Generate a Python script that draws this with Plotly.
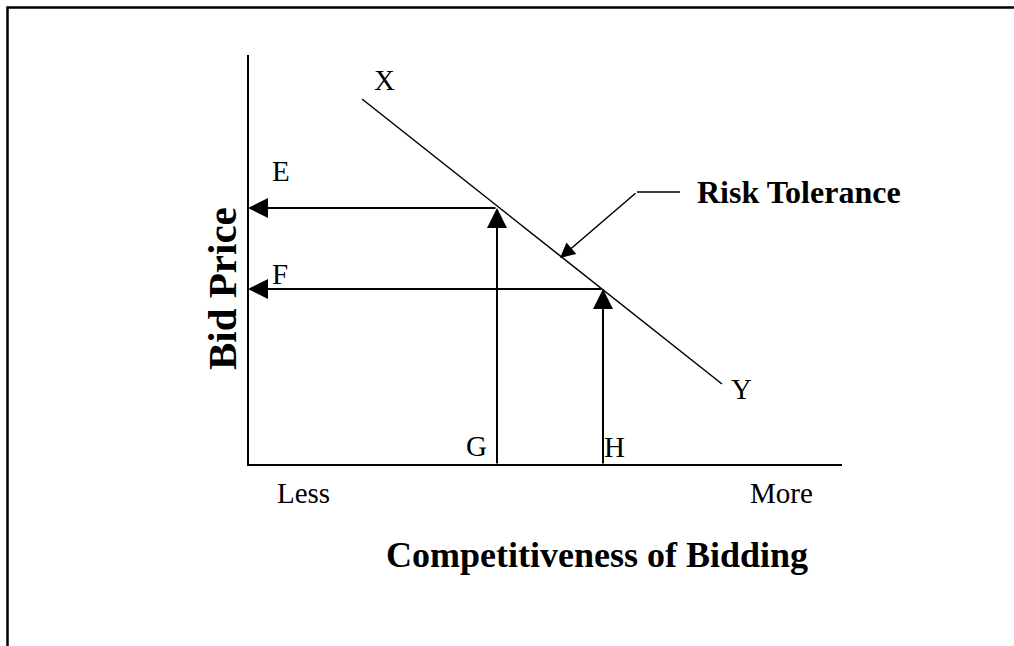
import plotly.graph_objects as go

# Diagram coordinates (page pixels, y measured downward)
axis_origin = (248, 465)
y_axis_top = 55
x_axis_end = 842
risk_line_x = [362, 722]
risk_line_y = [99, 384]
level_names = ["E", "F"]
level_y = [208, 289]          # bid price levels
level_x = [497, 603]          # competitiveness points G, H
pointer_x = [680, 637, 560]
pointer_y = [192, 192, 258]

point_labels = ["X", "Y", "E", "F", "G", "H", "Less", "More"]
point_label_x = [384, 741, 281, 280, 476, 614, 303, 781]
point_label_y = [80, 389, 171, 274, 446, 447, 493, 493]

x_title = "Competitiveness of Bidding"
y_title = "Bid Price"
curve_label = "Risk Tolerance"

FONT = "Liberation Serif, Times New Roman, serif"
fig = go.Figure()

ox, oy = axis_origin
# axes
fig.add_trace(go.Scatter(x=[ox, ox, x_axis_end], y=[y_axis_top, oy, oy], mode="lines",
                         line=dict(color="black", width=2), hoverinfo="skip"))
# frame (top and left)
fig.add_trace(go.Scatter(x=[1014, 7.5, 7.5], y=[7.5, 7.5, 646], mode="lines",
                         line=dict(color="black", width=2.5), hoverinfo="skip"))
# risk tolerance line
fig.add_trace(go.Scatter(x=risk_line_x, y=risk_line_y, mode="lines",
                         line=dict(color="black", width=1.5), hoverinfo="skip"))
# pointer line
fig.add_trace(go.Scatter(x=pointer_x[:2], y=pointer_y[:2], mode="lines",
                         line=dict(color="black", width=1.5), hoverinfo="skip"))

anns = []
for lx, ly in zip(level_x, level_y):
    # vertical arrow up from x-axis
    anns.append(dict(x=lx, y=ly, ax=lx, ay=oy, xref="x", yref="y", axref="x", ayref="y",
                     showarrow=True, arrowhead=2, arrowsize=2, arrowwidth=2,
                     arrowcolor="black", text="", standoff=0))
    # horizontal arrow left to y-axis
    anns.append(dict(x=ox, y=ly, ax=lx, ay=ly, xref="x", yref="y", axref="x", ayref="y",
                     showarrow=True, arrowhead=2, arrowsize=2, arrowwidth=2,
                     arrowcolor="black", text="", standoff=0))
# pointer arrow
anns.append(dict(x=pointer_x[2], y=pointer_y[2], ax=pointer_x[1], ay=pointer_y[1],
                 xref="x", yref="y", axref="x", ayref="y",
                 showarrow=True, arrowhead=2, arrowsize=2, arrowwidth=1.5,
                 arrowcolor="black", text="", standoff=0))

for t, tx, ty in zip(point_labels, point_label_x, point_label_y):
    anns.append(dict(x=tx, y=ty, xref="x", yref="y", text=t, showarrow=False,
                     xanchor="center", yanchor="middle",
                     font=dict(family=FONT, size=29, color="black")))

anns.append(dict(x=695, y=192, xref="x", yref="y", text="<b>%s</b>" % curve_label,
                 showarrow=False, xanchor="left", yanchor="middle",
                 font=dict(family=FONT, size=32, color="black")))
anns.append(dict(x=597, y=555, xref="x", yref="y", text="<b>%s</b>" % x_title,
                 showarrow=False, xanchor="center", yanchor="middle",
                 font=dict(family=FONT, size=36, color="black")))
anns.append(dict(x=222, y=289, xref="x", yref="y", text="<b>%s</b>" % y_title,
                 showarrow=False, xanchor="center", yanchor="middle", textangle=-90,
                 font=dict(family=FONT, size=41, color="black")))

fig.update_layout(
    width=1014, height=646,
    margin=dict(l=0, r=0, t=0, b=0),
    paper_bgcolor="white", plot_bgcolor="white",
    showlegend=False,
    xaxis=dict(range=[0, 1014], visible=False, fixedrange=True),
    yaxis=dict(range=[646, 0], visible=False, fixedrange=True),
    annotations=anns,
)
fig.write_html("out.html", config={"displayModeBar": False})

# remove default page margin so the figure sits at the window origin
with open("out.html", "r", encoding="utf-8") as f:
    html = f.read()
html = html.replace("<head>", "<head><style>html,body{margin:0;padding:0;overflow:hidden;}</style>", 1)
with open("out.html", "w", encoding="utf-8") as f:
    f.write(html)
